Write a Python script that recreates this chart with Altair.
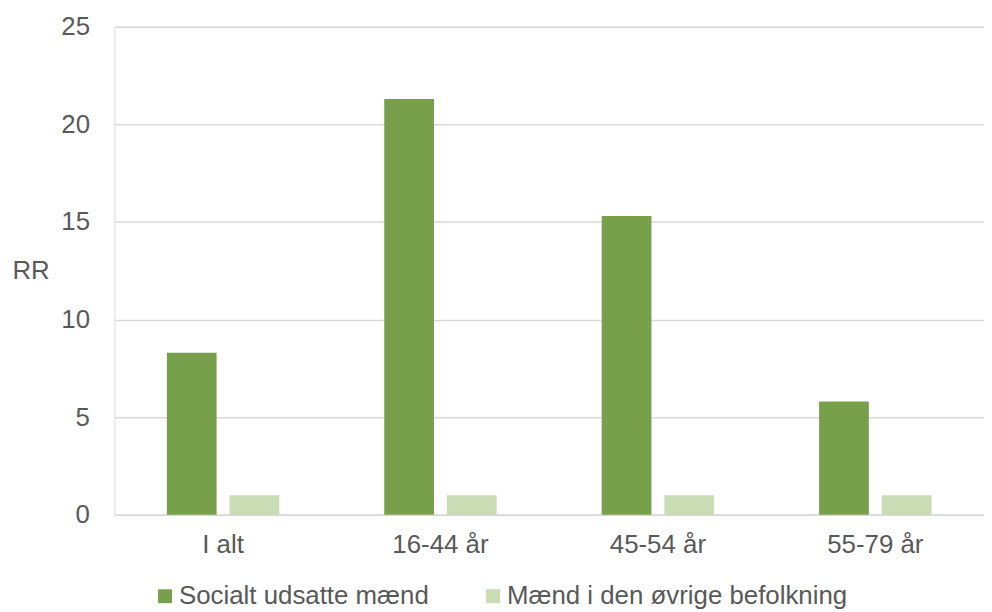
import altair as alt
import pandas as pd

categories = ["I alt", "16-44 år", "45-54 år", "55-79 år"]
series = ["Socialt udsatte mænd", "Mænd i den øvrige befolkning"]
udsatte = [8.3, 21.3, 15.3, 5.8]
oevrige = [1.0, 1.0, 1.0, 1.0]

rows = []
for c, a, b in zip(categories, udsatte, oevrige):
    rows.append({"kategori": c, "serie": series[0], "RR": a})
    rows.append({"kategori": c, "serie": series[1], "RR": b})
df = pd.DataFrame(rows)

FONT = "Liberation Sans"
GRAY = "#595959"
FS = 26

chart = alt.Chart(df).mark_bar().encode(
    x=alt.X("kategori:N", sort=categories, title=None,
            scale=alt.Scale(paddingInner=0.483, paddingOuter=0.2415),
            axis=alt.Axis(labelAngle=0, labelFont=FONT, labelFontSize=FS,
                          labelColor=GRAY, labelPadding=17, ticks=False,
                          domainColor="#D9D9D9", domainWidth=1.5)),
    xOffset=alt.XOffset("serie:N", sort=series,
                        scale=alt.Scale(paddingInner=0.206, paddingOuter=0)),
    y=alt.Y("RR:Q", title="RR",
            scale=alt.Scale(domain=[0, 25], nice=False),
            axis=alt.Axis(values=[0, 5, 10, 15, 20, 25], labelFont=FONT,
                          labelFontSize=FS, labelColor=GRAY, labelPadding=25,
                          ticks=False, domain=False, gridColor="#D9D9D9",
                          gridWidth=1.5, titleAngle=0, titleAlign="left",
                          titleBaseline="middle", titleX=-103, titleY=245,
                          titleFont=FONT, titleFontSize=FS,
                          titleFontWeight="normal", titleColor=GRAY)),
    color=alt.Color("serie:N", sort=series, title=None,
                    scale=alt.Scale(domain=series, range=["#789F4A", "#C9DCB3"]),
                    legend=alt.Legend(orient="none", direction="horizontal",
                                      legendX=38, legendY=560,
                                      symbolType="square", symbolSize=196,
                                      symbolStrokeWidth=0, labelFont=FONT,
                                      labelFontSize=FS, labelColor=GRAY,
                                      labelOffset=1, columnPadding=51,
                                      labelLimit=500)),
).properties(
    width=875, height=491,
    padding={"left": 4, "top": 4, "right": 0, "bottom": 0},
).configure_view(stroke=None).configure(background="white")

chart.save("out.html", embed_options={"renderer": "svg", "actions": False})
